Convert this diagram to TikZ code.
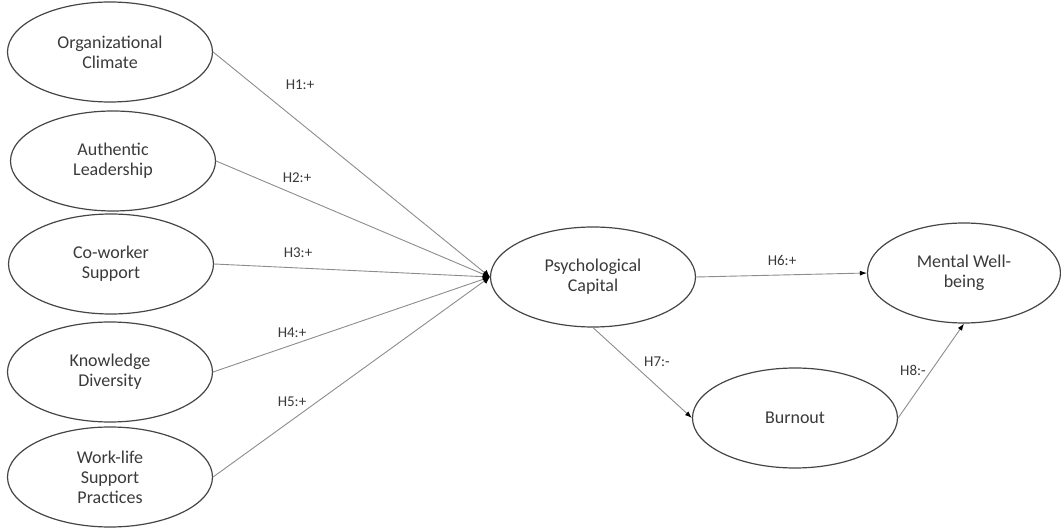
\documentclass[tikz,border=0pt]{standalone}
\usepackage{fontspec}
\setmainfont{Carlito}
\usetikzlibrary{shapes.geometric,arrows.meta}
\definecolor{edgegray}{HTML}{454545}
\definecolor{linegray}{HTML}{8C8C8C}
\definecolor{txtgray}{HTML}{3A3A3A}
\begin{document}
\begin{tikzpicture}[x=1pt,y=-1pt,
  ell/.style={ellipse,draw=edgegray,line width=1.2pt,minimum width=205pt,minimum height=100pt,inner sep=0pt,align=center,text=txtgray,font=\fontsize{18}{20}\selectfont},
  conn/.style={draw=linegray,line width=0.9pt},
  arr/.style={conn,-{Latex[length=7pt,width=5pt,color=black]}},
  inarr/.style={conn,-{Latex[length=7pt,width=7pt,color=black]}},
  lab/.style={text=txtgray,font=\fontsize{15}{16}\selectfont,inner sep=0pt}]
\useasboundingbox (0,0) rectangle (1061,529);
\node[ell] (oc) at (110,52) {Organizational\\Climate};
\node[ell] (al) at (113,161) {Authentic\\Leadership};
\node[ell] (cs) at (111,264) {Co-worker\\Support};
\node[ell] (kd) at (110,372) {Knowledge\\Diversity};
\node[ell] (wl) at (110,477) {Work-life\\Support\\Practices};
\node[ell] (pc) at (593,277) {Psychological\\Capital};
\node[ell,minimum width=193pt] (mw) at (964,273) {Mental Well-\\being};
\node[ell] (bo) at (795,418) {Burnout};
\foreach \s in {oc,al,cs,kd,wl}{
  \draw[inarr] (\s.east) -- (pc.west);
}
\draw[arr] (pc.east) -- (mw.west);
\draw[arr] (pc.south) -- (bo.west);
\draw[arr] (bo.east) -- (mw.south);
\node[lab] (l1) at (300,85) {H1:+};
\node[lab] (l2) at (297,178) {H2:+};
\node[lab] (l3) at (298,253) {H3:+};
\node[lab] (l4) at (292,333) {H4:+};
\node[lab] (l5) at (292,402) {H5:+};
\node[lab] (l6) at (782,260) {H6:+};
\node[lab] (l7) at (657,362) {H7:-};
\node[lab] (l8) at (913,370) {H8:-};
\end{tikzpicture}
\end{document}
